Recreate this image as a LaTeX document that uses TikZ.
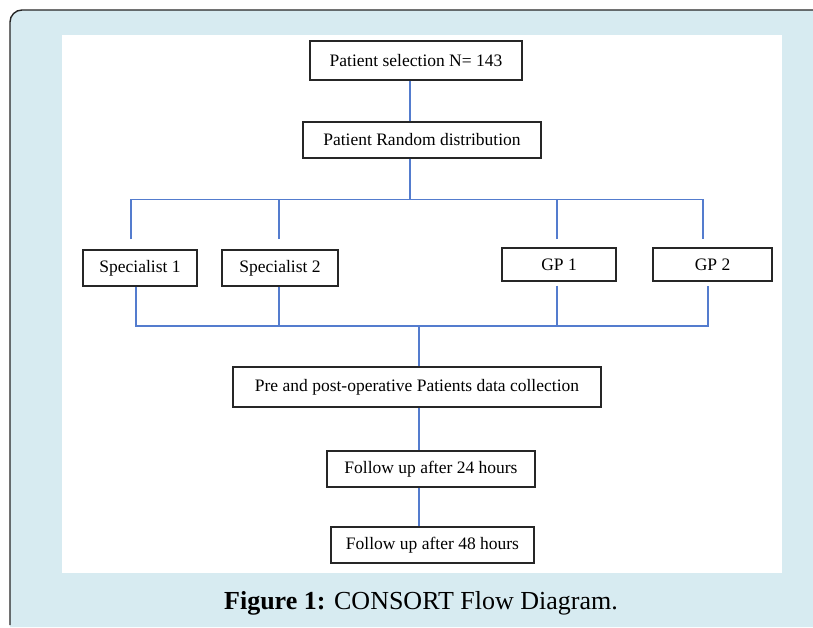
\documentclass[tikz,border=0pt]{standalone}
\usepackage{fontspec}
\setmainfont{Liberation Serif}
\usetikzlibrary{calc,positioning}
\definecolor{panelblue}{RGB}{215,235,241}
\definecolor{linkblue}{RGB}{84,124,206}

\begin{document}
\begin{tikzpicture}[
                x=1pt,y=-1pt,
                box/.style={draw=black!85,line width=1.2pt,fill=white,inner sep=0pt,font=\fontsize{17.5}{20}\selectfont},
                link/.style={draw=linkblue,line width=1.1pt}
            ]
                \useasboundingbox (0,0) rectangle (813,627);
                % panel and white page
                \fill[panelblue] (813,627) -- (10,627) -- (10,22) arc[start angle=180,end angle=270,radius=12] -- (813,10) -- cycle;
                \draw[black!85,line width=1.4pt] (10,625) -- (10,22) arc[start angle=180,end angle=270,radius=12] -- (813,10);
                \fill[white] (62,35) rectangle (782,573);
                \node (sel)  [box,minimum width=212,minimum height=39] at (416,60.5)  {Patient selection N= 143};
                \node (rand) [box,minimum width=238,minimum height=36] at (422,140)   {Patient Random distribution};
                \node (spA)  [box,minimum width=114,minimum height=36] at (140,268)   {Specialist 1};
                \node (spB)  [box,minimum width=116,minimum height=36] at (280,268)   {Specialist 2};
                \node (gpA)  [box,minimum width=114,minimum height=33] at (559,264.5) {GP 1};
                \node (gpB)  [box,minimum width=119,minimum height=33] at (712.5,264.5) {GP 2};
                \node (pre)  [box,minimum width=368,minimum height=40] at (417,387)   {Pre and post-operative Patients data collection};
                \node (fuA)  [box,minimum width=208,minimum height=36] at (431,469)   {Follow up after 24 hours};
                \node (fuB)  [box,minimum width=203,minimum height=36] at (432.5,545) {Follow up after 48 hours};
                \coordinate (dA) at (131,239);
                \coordinate (dB) at (279,239);
                \coordinate (dC) at (557,239);
                \coordinate (dD) at (703,239);
                \coordinate (uA) at ([xshift=-4pt]spA.south);
                \coordinate (uB) at ([xshift=-1pt]spB.south);
                \coordinate (uC) at ([xshift=-2pt,yshift=-4pt]gpA.south);
                \coordinate (uD) at ([xshift=-4.5pt,yshift=-4pt]gpB.south);
                \coordinate (merge) at (419,326);
                % connectors
                \draw[link] ([xshift=-6pt]sel.south) -- ([xshift=-12pt]rand.north);
                \draw[link] ([xshift=-12pt]rand.south) -- ++(0,41) coordinate (split);
                \draw[link] (dA) -- (dA |- split) -- (dD |- split) -- (dD);
                \draw[link] (dB) -- (dB |- split);
                \draw[link] (dC) -- (dC |- split);
                \draw[link] (uA) -- (uA |- merge) -- (uD |- merge) -- (uD);
                \draw[link] (uB) -- (uB |- merge);
                \draw[link] (uC) -- (uC |- merge);
                \draw[link] (merge) -- ([xshift=2pt]pre.north);
                \draw[link] ([xshift=2pt]pre.south) -- ([xshift=-12pt]fuA.north);
                \draw[link] ([xshift=-12pt]fuA.south) -- ([xshift=-13.5pt]fuB.north);
                \node (cap) at (421,603) {\fontsize{26}{30}\selectfont\textbf{Figure 1:} CONSORT Flow Diagram.};
            \end{tikzpicture}
\end{document}
